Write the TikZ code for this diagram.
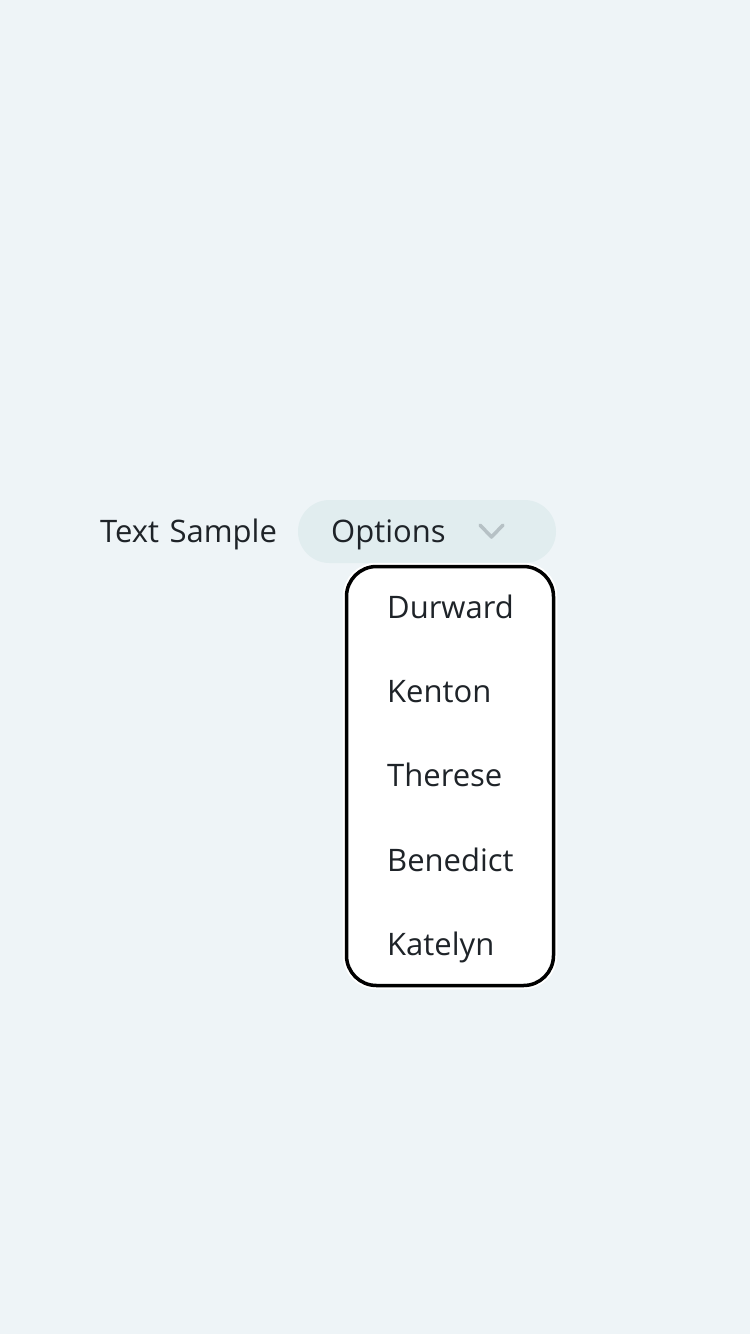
\documentclass[tikz,border=0pt]{standalone}
\usepackage{fontspec}
\setmainfont{Open Sans}[WordSpace=1.3]
\usetikzlibrary{positioning, calc}

\definecolor{pagebg}{HTML}{EEF4F7}
\definecolor{btnfill}{HTML}{E1EDEF}
\definecolor{inkdark}{HTML}{1E2328}
\definecolor{chevgray}{HTML}{B6C1C5}

\begin{document}
\begin{tikzpicture}[x=1pt, y=-1pt,
        txt/.style={font=\fontsize{31}{37}\selectfont, text=inkdark, inner sep=0pt, text height=22pt, text depth=6pt},
        pill/.style={rectangle, fill=btnfill, rounded corners=31.5pt, minimum width=258pt, minimum height=63pt, inner sep=0pt},
        menubox/.style={rectangle, fill=white, draw=black, line width=3.5pt, rounded corners=30pt, minimum width=207pt, minimum height=419pt, inner sep=0pt,
            preaction={draw=white, line width=7.5pt}},
        item/.style={txt, anchor=west},
        chevron/.style={draw=chevgray, line width=3.5pt, line cap=round, line join=round},
        node distance=56pt
    ]
    % page
    \fill[pagebg] (0,0) rectangle (750,1334);

    % label and button
    \node[txt, anchor=base west] (sample) at (100,542) {Text Sample};
    \node[pill] (btn) at (427,531.5) {};
    \node[txt, anchor=base west] (options) at (331,542) {Options};
    \coordinate (chev) at (491.5,537);
    \draw[chevron] ($(chev)+(-11.5,-12)$) -- (chev) -- ($(chev)+(11.5,-12)$);

    % dropdown list
    \node[menubox] (menu) at (450,776) {};
    \node[txt, anchor=base west] (durward) at (387,618) {Durward};
    \node[item, below=of durward.south west, anchor=north west] (kenton) {Kenton};
    \node[item, below=of kenton.south west, anchor=north west] (therese) {Therese};
    \node[item, below=of therese.south west, anchor=north west] (benedict) {Benedict};
    \node[item, below=of benedict.south west, anchor=north west] (katelyn) {Katelyn};
\end{tikzpicture}
\end{document}
